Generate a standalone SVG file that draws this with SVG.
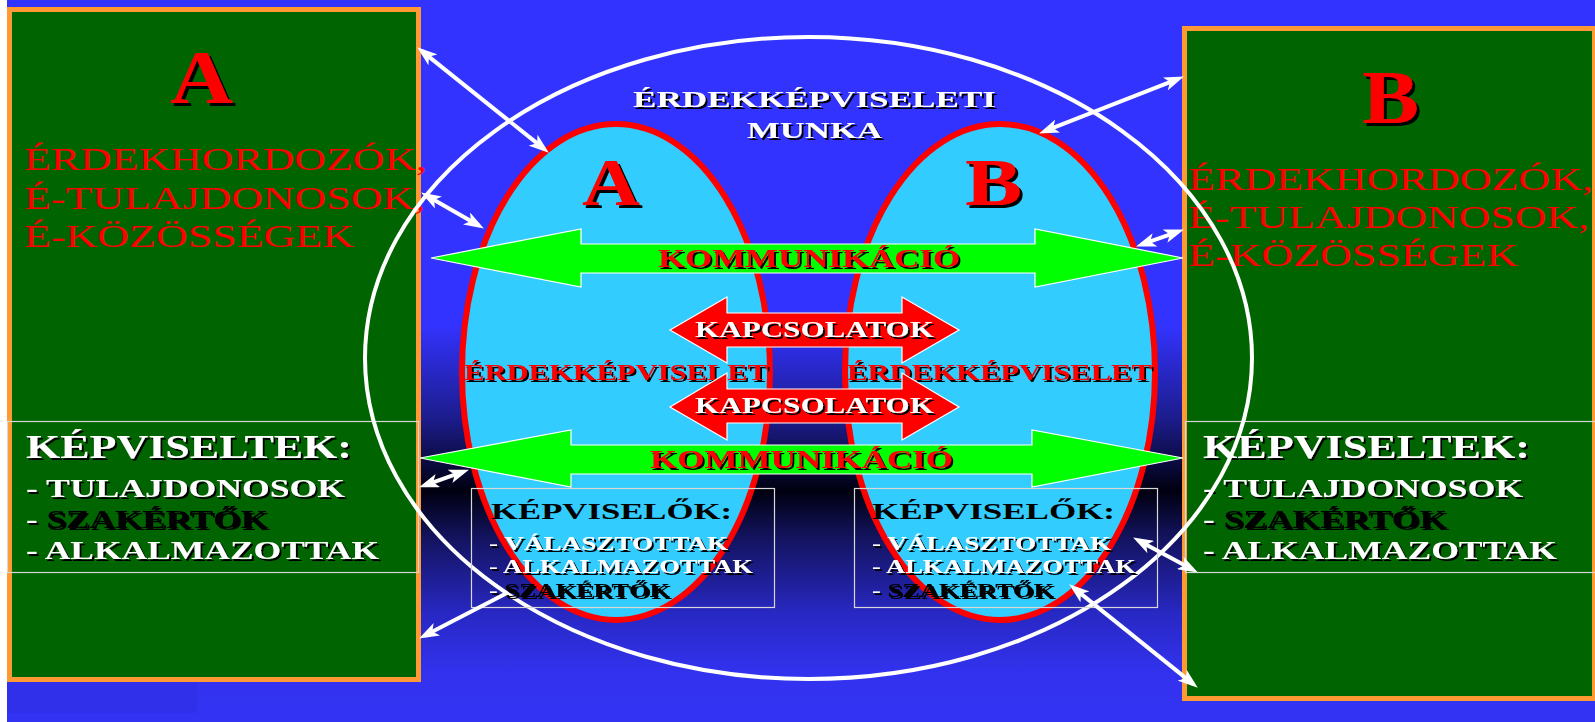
<svg xmlns="http://www.w3.org/2000/svg" width="1595" height="722" viewBox="0 0 1595 722">
<defs>
<linearGradient id="bg" gradientUnits="userSpaceOnUse" x1="0" y1="0" x2="0" y2="722">
<stop offset="0" stop-color="#3333FF"/>
<stop offset="0.45" stop-color="#3333FF"/>
<stop offset="0.58" stop-color="#1C1C8C"/>
<stop offset="0.68" stop-color="#000010"/>
<stop offset="0.74" stop-color="#12125A"/>
<stop offset="0.85" stop-color="#2828C4"/>
<stop offset="0.93" stop-color="#3232EE"/>
<stop offset="1" stop-color="#3333F4"/>
</linearGradient>
<filter id="sh2" x="-10%" y="-30%" width="120%" height="160%"><feDropShadow dx="2" dy="2" stdDeviation="0.3" flood-color="#000" flood-opacity="1"/></filter>
<filter id="sh3" x="-20%" y="-20%" width="140%" height="140%"><feDropShadow dx="3" dy="3" stdDeviation="0.3" flood-color="#000" flood-opacity="1"/></filter>
<marker id="ah" viewBox="0 0 20 14" refX="14" refY="7" markerWidth="20" markerHeight="14" markerUnits="userSpaceOnUse" orient="auto-start-reverse"><path d="M0,0 L20,7 L0,14 L5,7 z" fill="#fff"/></marker>
</defs>
<style>
text{font-family:"Liberation Serif","Times New Roman",serif;}
.big{font-size:76px;font-weight:bold;fill:#FF0000;filter:url(#sh3);}
.mid{font-size:68px;font-weight:bold;fill:#FF0000;filter:url(#sh3);}
.red{font-size:32px;fill:#FF0000;}
.h1{font-size:33px;font-weight:bold;fill:#fff;filter:url(#sh2);}
.l1{font-size:25px;font-weight:bold;fill:#fff;filter:url(#sh2);}
.blk{fill:#000;}
.wt{font-size:24px;font-weight:bold;fill:#fff;filter:url(#sh2);}
.kom{font-size:25px;font-weight:bold;fill:#FF0000;filter:url(#sh2);}
.kap{font-size:23px;font-weight:bold;fill:#fff;filter:url(#sh2);}
.erd{font-size:23px;font-weight:bold;fill:#FF0000;filter:url(#sh2);}
.kp{font-size:24px;font-weight:bold;fill:#000;}
.l2{font-size:18px;font-weight:bold;fill:#fff;filter:url(#sh2);}
.gbox{fill:#006400;stroke:#FF9933;stroke-width:5;}
.tbox{fill:none;stroke:#D8D8D8;stroke-width:1.2;}
.ell{fill:#33CCFF;stroke:#FF0000;stroke-width:6;}
.garr{fill:#00FF00;stroke:#fff;stroke-width:1.2;}
.rarr{fill:#FF0000;stroke:#fff;stroke-width:1.2;}
.con{stroke:#fff;stroke-width:4;fill:none;}
</style>
<rect x="0" y="0" width="1595" height="722" fill="#fff"/>
<rect x="7" y="0" width="1588" height="722" fill="url(#bg)"/>
<rect x="7" y="682" width="190" height="31" fill="#3030EA"/>

<g id="nodeA">
<rect class="gbox" x="9.5" y="9.5" width="409" height="670"/>
<text class="big" x="170" y="103" textLength="63" lengthAdjust="spacingAndGlyphs">A</text>
<text class="red" x="24" y="170" textLength="403" lengthAdjust="spacingAndGlyphs">ÉRDEKHORDOZÓK,</text>
<text class="red" x="24" y="209" textLength="401" lengthAdjust="spacingAndGlyphs">É-TULAJDONOSOK,</text>
<text class="red" x="24" y="247" textLength="330" lengthAdjust="spacingAndGlyphs">É-KÖZÖSSÉGEK</text>
</g>
<g id="nodeB">
<rect class="gbox" x="1184.5" y="28.5" width="410" height="670"/>
<text class="big" x="1362" y="123" textLength="57" lengthAdjust="spacingAndGlyphs">B</text>
<text class="red" x="1188" y="190" textLength="405" lengthAdjust="spacingAndGlyphs">ÉRDEKHORDOZÓK,</text>
<text class="red" x="1188" y="228" textLength="401" lengthAdjust="spacingAndGlyphs">É-TULAJDONOSOK,</text>
<text class="red" x="1188" y="266" textLength="330" lengthAdjust="spacingAndGlyphs">É-KÖZÖSSÉGEK</text>
</g>
<g id="kepviseltekA">
<rect class="tbox" x="7.5" y="421.5" width="411" height="151"/>
<text class="h1" x="26" y="458" textLength="326" lengthAdjust="spacingAndGlyphs">KÉPVISELTEK:</text>
<text class="l1" x="26" y="497" textLength="319" lengthAdjust="spacingAndGlyphs">- TULAJDONOSOK</text>
<text class="l1" x="26" y="528" textLength="242" lengthAdjust="spacingAndGlyphs">- <tspan class="blk">SZAKÉRTŐK</tspan></text>
<text class="l1" x="26" y="559" textLength="353" lengthAdjust="spacingAndGlyphs">- ALKALMAZOTTAK</text>
</g>
<g id="kepviseltekB">
<rect class="tbox" x="1185.5" y="421.5" width="411" height="151"/>
<text class="h1" x="1203" y="458" textLength="327" lengthAdjust="spacingAndGlyphs">KÉPVISELTEK:</text>
<text class="l1" x="1203" y="497" textLength="320" lengthAdjust="spacingAndGlyphs">- TULAJDONOSOK</text>
<text class="l1" x="1203" y="528" textLength="244" lengthAdjust="spacingAndGlyphs">- <tspan class="blk">SZAKÉRTŐK</tspan></text>
<text class="l1" x="1203" y="559" textLength="354" lengthAdjust="spacingAndGlyphs">- ALKALMAZOTTAK</text>
</g>
<g id="munka">
<ellipse cx="808.5" cy="358" rx="443.5" ry="321" fill="none" stroke="#fff" stroke-width="4"/>
<text class="wt" x="633" y="107" textLength="363" lengthAdjust="spacingAndGlyphs">ÉRDEKKÉPVISELETI</text>
<text class="wt" x="747" y="138" textLength="135" lengthAdjust="spacingAndGlyphs">MUNKA</text>
</g>
<g id="ellA">
<ellipse class="ell" cx="616" cy="372" rx="154" ry="248"/>
<text class="mid" x="582" y="205" textLength="58" lengthAdjust="spacingAndGlyphs">A</text>
<text class="erd" x="464" y="380" textLength="304" lengthAdjust="spacingAndGlyphs">ÉRDEKKÉPVISELET</text>
</g>
<g id="ellB">
<ellipse class="ell" cx="1000" cy="372" rx="155" ry="248"/>
<text class="mid" x="965" y="205" textLength="57" lengthAdjust="spacingAndGlyphs">B</text>
<text class="erd" x="847" y="380" textLength="305" lengthAdjust="spacingAndGlyphs">ÉRDEKKÉPVISELET</text>
</g>
<g id="kepviselokA">
<rect class="tbox" x="471.5" y="488.5" width="303" height="119"/>
<text class="kp" x="491" y="519" textLength="241" lengthAdjust="spacingAndGlyphs">KÉPVISELŐK:</text>
<text class="l2" x="489" y="550" textLength="239" lengthAdjust="spacingAndGlyphs">- VÁLASZTOTTAK</text>
<text class="l2" x="489" y="573" textLength="264" lengthAdjust="spacingAndGlyphs">- ALKALMAZOTTAK</text>
<text class="l2" x="489" y="597" textLength="181" lengthAdjust="spacingAndGlyphs">- <tspan class="blk">SZAKÉRTŐK</tspan></text>
</g>
<g id="kepviselokB">
<rect class="tbox" x="854.5" y="488.5" width="303" height="119"/>
<text class="kp" x="872" y="519" textLength="243" lengthAdjust="spacingAndGlyphs">KÉPVISELŐK:</text>
<text class="l2" x="872" y="550" textLength="239" lengthAdjust="spacingAndGlyphs">- VÁLASZTOTTAK</text>
<text class="l2" x="872" y="573" textLength="264" lengthAdjust="spacingAndGlyphs">- ALKALMAZOTTAK</text>
<text class="l2" x="872" y="597" textLength="182" lengthAdjust="spacingAndGlyphs">- <tspan class="blk">SZAKÉRTŐK</tspan></text>
</g>
<g id="kommunikacio1">
<polygon class="garr" points="431,258 581,229 581,244 1035,244 1035,229 1183,258 1035,287 1035,273 581,273 581,287"/>
<text class="kom" x="658" y="267" textLength="302" lengthAdjust="spacingAndGlyphs">KOMMUNIKÁCIÓ</text>
</g>
<g id="kapcsolatok1">
<polygon class="rarr" points="670,330 727,297 727,313 902,313 902,297 959,330 902,363 902,347 727,347 727,363"/>
<text class="kap" x="695" y="337" textLength="239" lengthAdjust="spacingAndGlyphs">KAPCSOLATOK</text>
</g>
<g id="kapcsolatok2">
<polygon class="rarr" points="670,407 727,373 727,389 902,389 902,373 959,407 902,440 902,423 727,423 727,440"/>
<text class="kap" x="695" y="413" textLength="239" lengthAdjust="spacingAndGlyphs">KAPCSOLATOK</text>
</g>
<g id="kommunikacio2">
<polygon class="garr" points="420,458 571,430 571,445 1032,445 1032,430 1183,458 1032,487 1032,474 571,474 571,487"/>
<text class="kom" x="650" y="468" textLength="303" lengthAdjust="spacingAndGlyphs">KOMMUNIKÁCIÓ</text>
</g>
<g id="connectors">
<line class="con" x1="421.9" y1="51.1" x2="544.1" y2="148.9" marker-start="url(#ah)" marker-end="url(#ah)"/>
<line class="con" x1="426.3" y1="195.5" x2="478.7" y2="225.5" marker-start="url(#ah)" marker-end="url(#ah)"/>
<line class="con" x1="424.7" y1="485.3" x2="463.3" y2="471.7" marker-start="url(#ah)" marker-end="url(#ah)"/>
<line class="con" x1="507" y1="593" x2="424.4" y2="635.7" marker-end="url(#ah)"/>
<line class="con" x1="1044.7" y1="131.2" x2="1178.3" y2="78.8" marker-start="url(#ah)" marker-end="url(#ah)"/>
<line class="con" x1="1141.7" y1="244.4" x2="1178.3" y2="231.6" marker-start="url(#ah)" marker-end="url(#ah)"/>
<line class="con" x1="1138.4" y1="540.4" x2="1192.6" y2="569.6" marker-start="url(#ah)" marker-end="url(#ah)"/>
<line class="con" x1="1073.9" y1="588.1" x2="1193.1" y2="683.9" marker-start="url(#ah)" marker-end="url(#ah)"/>
</g>
</svg>
